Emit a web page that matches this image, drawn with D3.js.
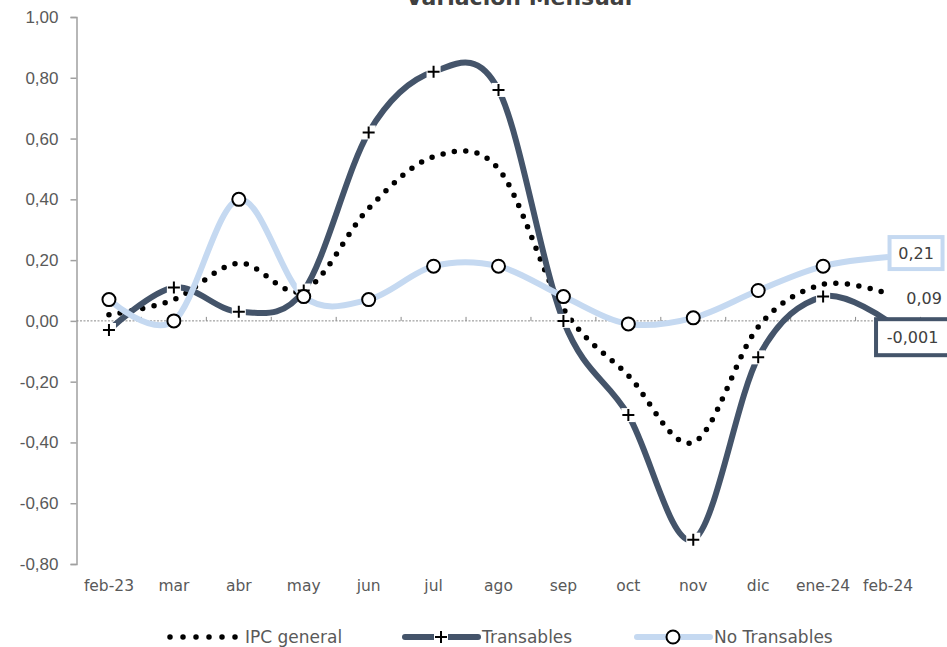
<!DOCTYPE html>
<html>
<head>
<meta charset="utf-8">
<script src="https://cdn.jsdelivr.net/npm/d3@7"></script>
<style>
  body { margin: 0; background: #fff; }
  svg { display: block; font-family: 'DejaVu Sans', sans-serif; }
</style>
</head>
<body>
<div id="chart"></div>
<script>
// valores
const months = ['feb-23', 'mar', 'abr', 'may', 'jun', 'jul', 'ago', 'sep', 'oct', 'nov', 'dic', 'ene-24', 'feb-24'];
const ipcGeneral = [0.02, 0.07, 0.19, 0.10, 0.37, 0.54, 0.50, 0.04, -0.18, -0.40, -0.02, 0.12, 0.09];
const transables = [-0.03, 0.11, 0.03, 0.10, 0.62, 0.82, 0.76, 0.00, -0.31, -0.72, -0.12, 0.08, -0.001];
const noTransables = [0.07, 0.00, 0.40, 0.08, 0.07, 0.18, 0.18, 0.08, -0.01, 0.01, 0.10, 0.18, 0.21];
const yTicks = [-0.8, -0.6, -0.4, -0.2, 0, 0.2, 0.4, 0.6, 0.8, 1.0];
const seriesNames = ['IPC general', 'Transables', 'No Transables'];

let width = 947;
let height = 647;
let margin = { top: 17, right: 26.5, bottom: 83, left: 76.5 };

const darkBlue = '#44546a';
const lightBlue = '#c5d9f1';
const textGray = '#595959';

const locale = d3.formatLocale({ decimal: ',', thousands: '.', grouping: [3], currency: ['', ''], minus: '-' });
const fmt2 = locale.format('.2f');
const fmt3 = locale.format('.3f');
const fmtLabel = v => (Math.abs(v) < 0.01 && v !== 0) ? fmt3(v) : fmt2(v);

const svg = d3.select('#chart')
    .append('svg')
    .attr('width', width)
    .attr('height', height);

const xScale = d3.scaleBand()
    .domain(months)
    .range([margin.left, width - margin.right])
    .padding(0);

const yScale = d3.scaleLinear()
    .domain([-0.8, 1.0])
    .range([height - margin.bottom, margin.top]);

const cx = d => xScale(d) + xScale.bandwidth() / 2;

// título (cortado arriba como en el original)
svg.append('text')
    .attr('x', 519)
    .attr('y', 5)
    .attr('text-anchor', 'middle')
    .style('font-size', '22px')
    .style('font-weight', 'bold')
    .style('fill', '#404040')
    .text('Variación Mensual');

// eje y
const yAxis = d3.axisLeft(yScale)
    .tickValues(yTicks)
    .tickSize(6)
    .tickPadding(12)
    .tickFormat(fmt2);

const gy = svg.append('g')
    .attr('transform', `translate(${margin.left}, 0)`)
    .call(yAxis);

gy.select('.domain').attr('stroke', '#a0a0a0').attr('stroke-width', 1.5);
gy.selectAll('.tick line').attr('stroke', '#a0a0a0').attr('stroke-width', 1.5);
gy.selectAll('.tick text')
    .style('font-size', '17px')
    .style('fill', textGray);

// línea del cero, punteada, con marcas entre categorías
const zeroY = yScale(0);
svg.append('line')
    .attr('x1', margin.left)
    .attr('x2', width - margin.right)
    .attr('y1', zeroY)
    .attr('y2', zeroY)
    .attr('stroke', '#8a8a8a')
    .attr('stroke-width', 1)
    .attr('stroke-dasharray', '2,1.5');

svg.append('g')
    .selectAll('line')
    .data(months.slice(1).concat(['end']))
    .join('line')
    .attr('x1', (d, i) => margin.left + (i + 1) * xScale.step())
    .attr('x2', (d, i) => margin.left + (i + 1) * xScale.step())
    .attr('y1', zeroY)
    .attr('y2', zeroY - 4)
    .attr('stroke', '#8a8a8a')
    .attr('stroke-width', 1);

// etiquetas del eje x
svg.append('g')
    .selectAll('text')
    .data(months)
    .join('text')
    .attr('x', d => cx(d))
    .attr('y', 591)
    .attr('text-anchor', 'middle')
    .style('font-size', '15.5px')
    .style('fill', textGray)
    .text(d => d);

const line = d3.line()
    .x((d, i) => cx(months[i]))
    .y(d => yScale(d))
    .curve(d3.curveCardinal.tension(0));

// series
svg.append('path')
    .datum(ipcGeneral)
    .attr('d', line)
    .attr('fill', 'none')
    .attr('stroke', '#000')
    .attr('stroke-width', 5.5)
    .attr('stroke-linecap', 'round')
    .attr('stroke-dasharray', '0,11.5');

svg.append('path')
    .datum(transables)
    .attr('d', line)
    .attr('fill', 'none')
    .attr('stroke', darkBlue)
    .attr('stroke-width', 6);

svg.append('path')
    .datum(noTransables)
    .attr('d', line)
    .attr('fill', 'none')
    .attr('stroke', lightBlue)
    .attr('stroke-width', 6);

function plusMarker(g) {
    g.append('rect')
        .attr('x', -7).attr('y', -7)
        .attr('width', 14).attr('height', 14)
        .attr('fill', '#fff');
    g.append('path')
        .attr('d', 'M-6,0H6M0,-6V6')
        .attr('stroke', '#000')
        .attr('stroke-width', 2)
        .attr('fill', 'none');
}

function circleMarker(g) {
    g.append('circle')
        .attr('r', 6.5)
        .attr('fill', '#fff')
        .attr('stroke', '#000')
        .attr('stroke-width', 2);
}

// marcadores (sin marcador en el último punto)
svg.append('g')
    .selectAll('g')
    .data(transables.slice(0, -1))
    .join('g')
    .attr('transform', (d, i) => `translate(${cx(months[i])}, ${yScale(d)})`)
    .each(function () { plusMarker(d3.select(this)); });

svg.append('g')
    .selectAll('g')
    .data(noTransables.slice(0, -1))
    .join('g')
    .attr('transform', (d, i) => `translate(${cx(months[i])}, ${yScale(d)})`)
    .each(function () { circleMarker(d3.select(this)); });

// etiquetas del último dato
const last = months.length - 1;
const lastX = cx(months[last]);

function boxedLabel(value, dx, dy, w, h, color) {
    const x = lastX + dx;
    const y = yScale(value) + dy;
    svg.append('rect')
        .attr('x', x - w / 2)
        .attr('y', y - h / 2)
        .attr('width', w)
        .attr('height', h)
        .attr('fill', '#fff')
        .attr('stroke', color)
        .attr('stroke-width', 4);
    svg.append('text')
        .attr('x', x)
        .attr('y', y)
        .attr('dy', '0.36em')
        .attr('text-anchor', 'middle')
        .style('font-size', '16px')
        .style('fill', '#404040')
        .text(fmtLabel(value));
}

boxedLabel(noTransables[last], 28, -4, 53, 32, lightBlue);
boxedLabel(transables[last], 24.5, 16, 73, 36, darkBlue);

svg.append('text')
    .attr('x', lastX + 36)
    .attr('y', yScale(ipcGeneral[last]) + 5)
    .attr('dy', '0.36em')
    .attr('text-anchor', 'middle')
    .style('font-size', '16px')
    .style('fill', '#404040')
    .text(fmtLabel(ipcGeneral[last]));

// leyenda
const legendY = 637;
const legend = svg.append('g');

legend.append('line')
    .attr('x1', 170).attr('x2', 236)
    .attr('y1', legendY).attr('y2', legendY)
    .attr('stroke', '#000')
    .attr('stroke-width', 5.5)
    .attr('stroke-linecap', 'round')
    .attr('stroke-dasharray', '0,13');

legend.append('line')
    .attr('x1', 405).attr('x2', 478)
    .attr('y1', legendY).attr('y2', legendY)
    .attr('stroke', darkBlue)
    .attr('stroke-width', 6)
    .attr('stroke-linecap', 'round');

legend.append('g')
    .attr('transform', `translate(441, ${legendY})`)
    .each(function () { plusMarker(d3.select(this)); });

legend.append('line')
    .attr('x1', 637).attr('x2', 710)
    .attr('y1', legendY).attr('y2', legendY)
    .attr('stroke', lightBlue)
    .attr('stroke-width', 6)
    .attr('stroke-linecap', 'round');

legend.append('g')
    .attr('transform', `translate(673, ${legendY})`)
    .each(function () { circleMarker(d3.select(this)); });

legend.selectAll('text')
    .data(seriesNames)
    .join('text')
    .attr('x', (d, i) => [245, 482, 714][i])
    .attr('y', legendY)
    .attr('dy', '0.36em')
    .style('font-size', '17px')
    .style('fill', textGray)
    .text(d => d);
</script>
</body>
</html>
